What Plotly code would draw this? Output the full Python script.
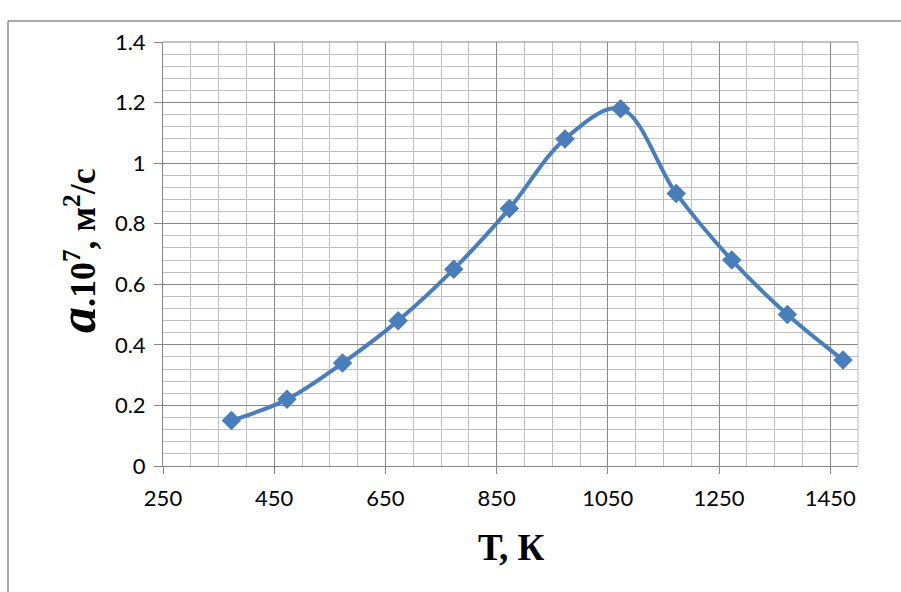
import plotly.graph_objects as go

# Temperature (K) and thermal diffusivity a·10^7 (m²/s)
temperature = [373, 473, 573, 673, 773, 873, 973, 1073, 1173, 1273, 1373, 1473]
diffusivity = [0.15, 0.22, 0.34, 0.48, 0.65, 0.85, 1.08, 1.18, 0.90, 0.68, 0.50, 0.35]

x_ticks = [250, 450, 650, 850, 1050, 1250, 1450]
y_ticks = [0, 0.2, 0.4, 0.6, 0.8, 1.0, 1.2, 1.4]
y_tick_text = ["0", "0.2", "0.4", "0.6", "0.8", "1", "1.2", "1.4"]

blue = "#4a7ebb"
major_grid = "#878787"
minor_grid = "#c0c0c0"

fig = go.Figure()
fig.add_trace(go.Scatter(
    x=temperature, y=diffusivity,
    mode="lines+markers",
    line=dict(color=blue, width=4, shape="spline", smoothing=1.0),
    marker=dict(symbol="diamond", size=15, color=blue),
    showlegend=False,
))

tick_font = dict(family="Lato, Carlito, sans-serif", size=22, color="#000000")

fig.update_layout(
    width=901, height=592,
    margin=dict(l=163, r=43, t=42, b=126),
    paper_bgcolor="white", plot_bgcolor="white",
    xaxis=dict(
        range=[250, 1500], tickvals=x_ticks, ticktext=[str(v) for v in x_ticks],
        showgrid=True, gridcolor=major_grid, gridwidth=1,
        minor=dict(dtick=50, tick0=250, showgrid=True, gridcolor=minor_grid, gridwidth=1),
        ticks="outside", ticklen=7, tickcolor=major_grid, ticklabelstandoff=6,
        showline=True, linecolor=major_grid, mirror=False,
        tickfont=tick_font, zeroline=False,
    ),
    yaxis=dict(
        range=[0, 1.4], tickvals=y_ticks, ticktext=y_tick_text,
        showgrid=True, gridcolor=major_grid, gridwidth=1,
        minor=dict(dtick=0.04, tick0=0, showgrid=True, gridcolor=minor_grid, gridwidth=1),
        ticks="outside", ticklen=8, tickcolor=major_grid, ticklabelstandoff=4,
        showline=True, linecolor=major_grid,
        tickfont=tick_font, zeroline=False,
    ),
    shapes=[
        # right edge and top edge of the plot area
        dict(type="line", xref="paper", yref="paper", x0=1, x1=1, y0=0, y1=1,
             line=dict(color=minor_grid, width=1)),
        dict(type="line", xref="paper", yref="paper", x0=0, x1=1, y0=1, y1=1,
             line=dict(color=major_grid, width=1)),
        # chart area frame
        dict(type="line", xref="paper", yref="paper", x0=-0.223, x1=1.2, y0=1.0495, y1=1.0495,
             line=dict(color="#8c8c8c", width=1.5)),
        dict(type="line", xref="paper", yref="paper", x0=-0.223, x1=-0.223, y0=1.0495, y1=-0.4,
             line=dict(color="#8c8c8c", width=1.5)),
    ],
    annotations=[
        dict(text="<b>Т, К</b>", xref="paper", yref="paper", x=0.5, y=-0.193,
             xanchor="center", yanchor="middle", showarrow=False,
             font=dict(family="Liberation Serif, Times New Roman, serif", size=37, color="#000")),
        dict(text="<b><i><span style='font-size:52px'>a</span></i>.10<sup>7</sup>, м<sup>2</sup>/с</b>",
             xref="paper", yref="paper", x=-0.124, y=0.509, textangle=-90,
             xanchor="center", yanchor="middle", showarrow=False,
             font=dict(family="Liberation Serif, Times New Roman, serif", size=36, color="#000")),
    ],
)

fig.write_html("out.html")
